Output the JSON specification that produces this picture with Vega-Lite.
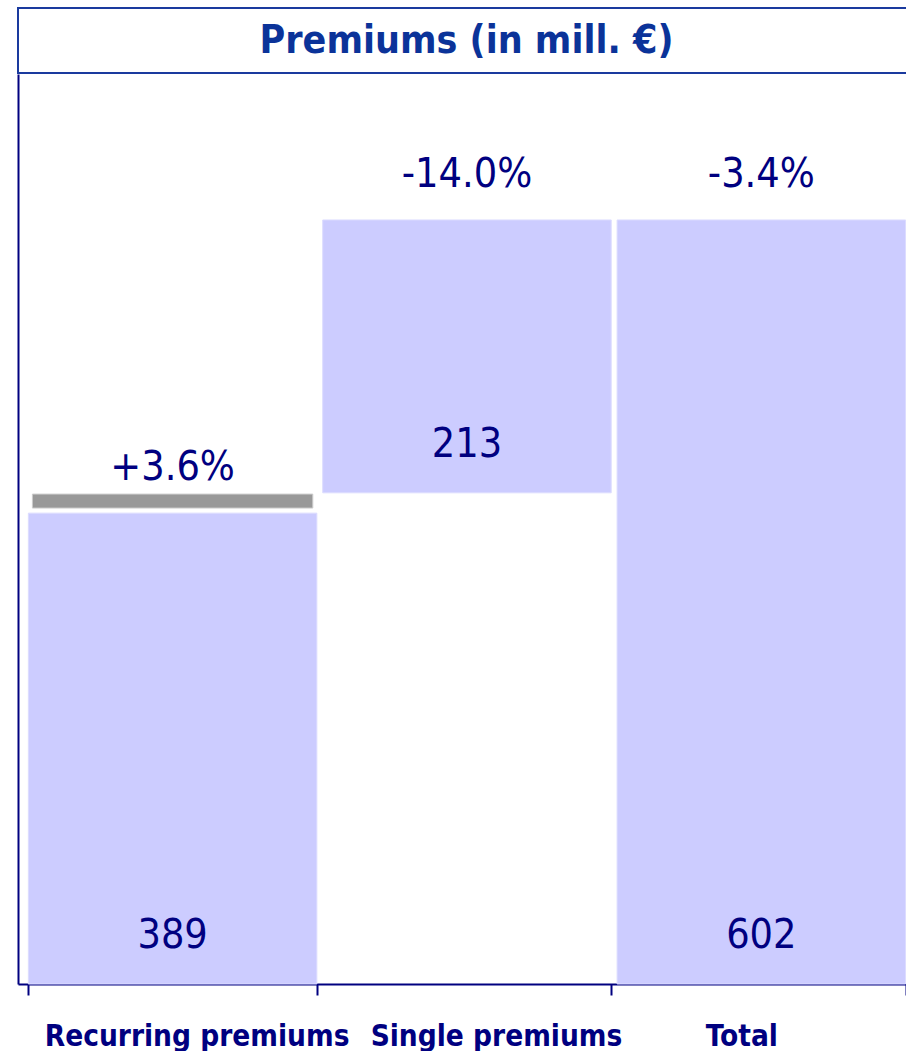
{
  "$schema": "https://vega.github.io/schema/vega-lite/v6.json",
  "padding": {"left": 17, "top": 7, "right": 0, "bottom": 0},
  "background": "white",
  "spacing": 0,
  "config": {"view": {"stroke": null}},
  "datasets": {
    "heading": [{"title": "Premiums (in mill. €)"}],
    "bars": [
      {"category": "Recurring premiums", "start": 0, "end": 371, "amount": "389", "change": "+3.6%"},
      {"category": "Single premiums", "start": 387, "end": 602, "amount": "213", "change": "-14.0%"},
      {"category": "Total", "start": 0, "end": 602, "amount": "602", "change": "-3.4%"}
    ],
    "prior": [
      {"category": "Recurring premiums", "start": 375, "end": 386}
    ]
  },
  "vconcat": [
    {
      "width": 889,
      "height": 65,
      "view": {"stroke": "#1a3a9e", "strokeWidth": 2},
      "data": {"name": "heading"},
      "mark": {"type": "text", "font": "DejaVu Sans Condensed", "fontWeight": "bold", "fontSize": 39, "color": "#0b3399", "baseline": "middle", "dx": 4},
      "encoding": {"text": {"field": "title"}}
    },
    {
      "width": 889,
      "height": 910,
      "encoding": {
        "x": {
          "field": "category",
          "type": "nominal",
          "sort": null,
          "scale": {"paddingInner": 0.02, "paddingOuter": 0.02, "align": 0.88},
          "axis": {
            "title": null,
            "labelAngle": 0,
            "domainColor": "#000080",
            "domainWidth": 2,
            "tickColor": "#000080",
            "tickWidth": 2,
            "tickSize": 11,
            "tickBand": "extent",
            "labelFont": "DejaVu Sans Condensed",
            "labelFontWeight": "bold",
            "labelFontSize": 29.5,
            "labelColor": "#000080",
            "labelBaseline": "alphabetic",
            "labelPadding": 50,
            "labelOverlap": false,
            "labelBound": false,
            "labelLimit": 0,
            "labelOffset": {"expr": "datum.label == 'Total' ? -20 : (datum.label == 'Single premiums' ? 29 : 24)"}
          }
        },
        "y": {
          "field": "start",
          "type": "quantitative",
          "scale": {"domain": [0, 717], "nice": false},
          "axis": {"title": null, "labels": false, "ticks": false, "grid": false, "domainColor": "#000080", "domainWidth": 2}
        }
      },
      "layer": [
        {
          "data": {"name": "bars"},
          "mark": {"type": "bar", "color": "#ccccff", "stroke": "#dcdcff", "strokeWidth": 1},
          "encoding": {"y2": {"field": "end"}}
        },
        {
          "data": {"name": "prior"},
          "mark": {"type": "bar", "color": "#999999", "stroke": "#cccccc", "strokeWidth": 1, "width": {"band": 0.972}},
          "encoding": {"y2": {"field": "end"}}
        },
        {
          "data": {"name": "bars"},
          "mark": {"type": "text", "font": "DejaVu Sans Condensed", "fontSize": 41, "color": "#000080", "baseline": "alphabetic", "dy": -36},
          "encoding": {"text": {"field": "amount"}}
        },
        {
          "data": {"name": "bars"},
          "mark": {"type": "text", "font": "DejaVu Sans Condensed", "fontSize": 41, "color": "#000080", "baseline": "alphabetic", "dy": -33},
          "encoding": {"y": {"field": "end", "type": "quantitative"}, "text": {"field": "change"}}
        }
      ]
    }
  ]
}
